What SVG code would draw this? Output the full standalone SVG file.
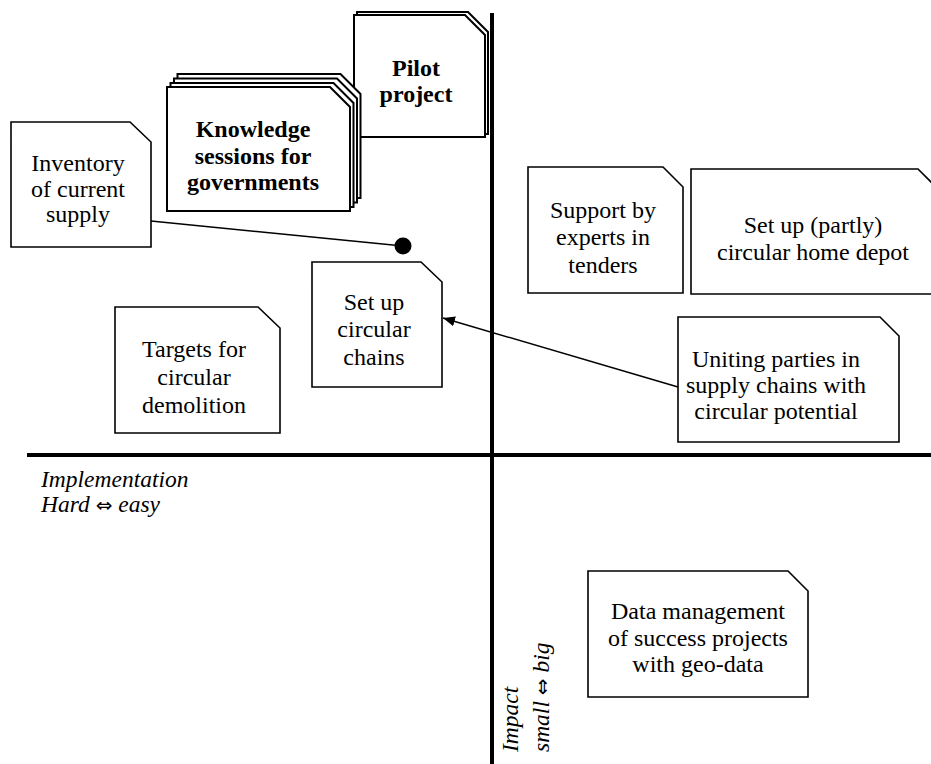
<svg xmlns="http://www.w3.org/2000/svg" width="931" height="764" viewBox="0 0 931 764">
<defs>
<marker id="arr" viewBox="0 0 12 10" refX="12" refY="5" markerWidth="12" markerHeight="10" markerUnits="userSpaceOnUse" orient="auto">
<path d="M0,0 L12,5 L0,10 Z" fill="#000"/>
</marker>
<path id="stkP" d="M0,0 H111 L131,20 V122 H0 Z"/>
<path id="stkK" d="M0,0 H163 L183,20 V124 H0 Z"/>
</defs>
<rect width="931" height="764" fill="#fff"/>
<g id="axes" stroke="#000" stroke-width="4">
<line x1="492" y1="13" x2="492" y2="764"/>
<line x1="27" y1="455" x2="931" y2="455"/>
</g>
<g id="axis-labels" font-family="Liberation Serif" font-size="23.5" font-style="italic" fill="#000">
<text x="41" y="487">Implementation</text>
<text x="41" y="512">Hard <tspan font-family="DejaVu Sans" font-style="normal" font-size="20">⇔</tspan> easy</text>
<text transform="translate(518,752) rotate(-90)">Impact</text>
<text transform="translate(549,752) rotate(-90)">small <tspan font-family="DejaVu Sans" font-style="normal" font-size="20">⇔</tspan> big</text>
</g>
<g id="pilot" fill="#fff" stroke="#000" stroke-width="2">
<use href="#stkP" x="357" y="12"/>
<use href="#stkP" x="354" y="15"/>
<g font-family="Liberation Serif" font-size="24" font-weight="bold" text-anchor="middle" fill="#000" stroke="none">
<text x="416" y="76">Pilot</text>
<text x="416" y="102">project</text>
</g>
</g>
<g id="knowledge" fill="#fff" stroke="#000" stroke-width="2">
<use href="#stkK" x="177.5" y="74"/>
<use href="#stkK" x="174" y="78.5"/>
<use href="#stkK" x="170.5" y="83"/>
<use href="#stkK" x="167" y="87"/>
<g font-family="Liberation Serif" font-size="24" font-weight="bold" text-anchor="middle" fill="#000" stroke="none">
<text x="253" y="137">Knowledge</text>
<text x="253" y="164">sessions for</text>
<text x="253" y="190">governments</text>
</g>
</g>
<g fill="#fff" stroke="#000" stroke-width="1.6">
<path id="inventory-box" d="M11,122 H130 L151,142 V247 H11 Z"/>
<path id="setup-chains-box" d="M312,262 H421 L442,282 V387 H312 Z"/>
<path id="targets-box" d="M115,307 H258 L280,328 V433 H115 Z"/>
<path id="support-box" d="M528,167 H663 L683,187 V293 H528 Z"/>
<path id="home-depot-box" d="M691,169 H918 L938,189 V294 H691 Z"/>
<path id="uniting-box" d="M678,317 H880 L899,336 V442 H678 Z"/>
<path id="data-management-box" d="M588,571 H788 L808,591 V697 H588 Z"/>
</g>
<g font-family="Liberation Serif" font-size="24" text-anchor="middle" fill="#000">
<g id="inventory">
<text x="78" y="171">Inventory</text>
<text x="78" y="197">of current</text>
<text x="78" y="222">supply</text>
</g>
<g id="setup-chains">
<text x="374" y="310">Set up</text>
<text x="374" y="337">circular</text>
<text x="374" y="365">chains</text>
</g>
<g id="targets">
<text x="194" y="357">Targets for</text>
<text x="194" y="385">circular</text>
<text x="194" y="413">demolition</text>
</g>
<g id="support">
<text x="603" y="218">Support by</text>
<text x="603" y="245">experts in</text>
<text x="603" y="273">tenders</text>
</g>
<g id="home-depot">
<text x="813" y="233">Set up (partly)</text>
<text x="813" y="260">circular home depot</text>
</g>
<g id="uniting">
<text x="776" y="367">Uniting parties in</text>
<text x="776" y="393">supply chains with</text>
<text x="776" y="419">circular potential</text>
</g>
<g id="data-management">
<text x="698" y="619">Data management</text>
<text x="698" y="646">of success projects</text>
<text x="698" y="672">with geo-data</text>
</g>
</g>
<g id="connectors" stroke="#000" stroke-width="1.5" fill="none">
<line x1="151" y1="221" x2="403" y2="246"/>
<circle cx="403" cy="246" r="8.5" fill="#000" stroke="none"/>
<line x1="678" y1="387" x2="443" y2="318" marker-end="url(#arr)"/>
</g>
</svg>
